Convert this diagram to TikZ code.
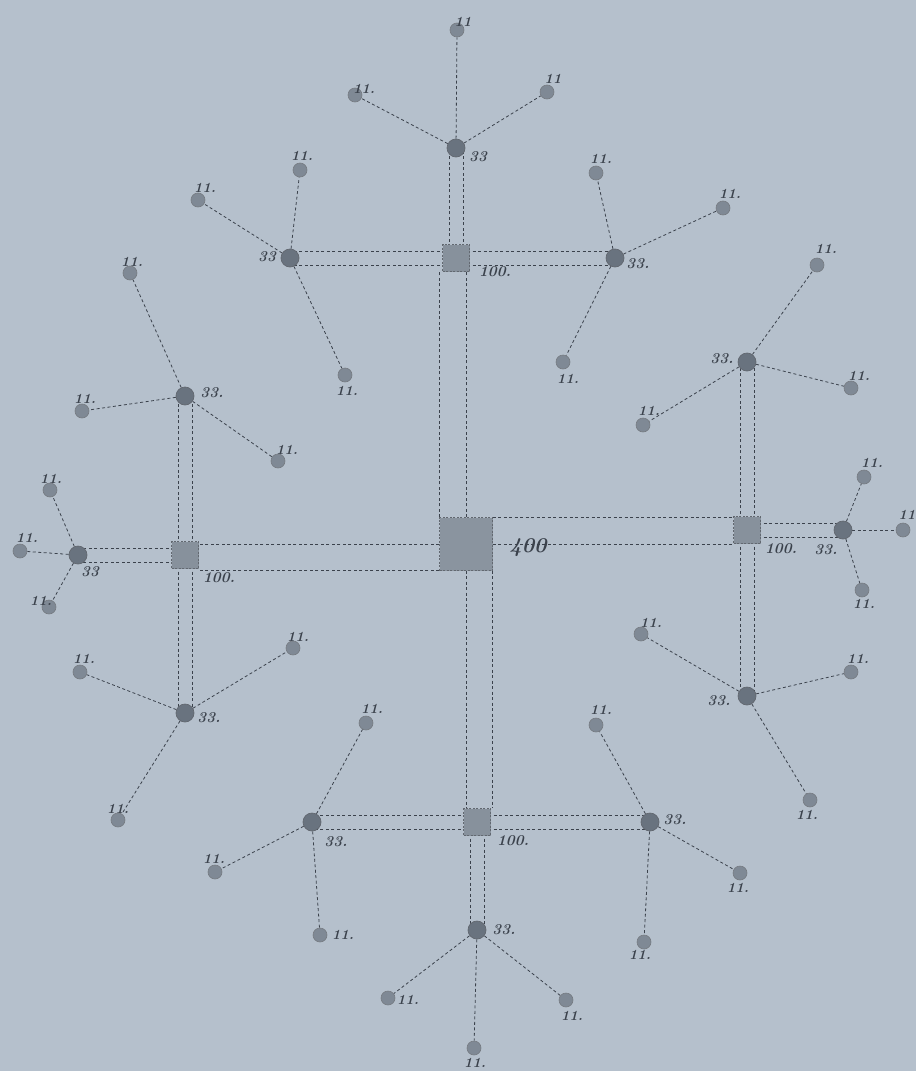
\documentclass[tikz,border=0pt]{standalone}
\usetikzlibrary{backgrounds}
\definecolor{bg}{HTML}{B5C0CC}
\definecolor{ink}{HTML}{3B424C}
\definecolor{sqfill}{HTML}{87919C}
\definecolor{bigfill}{HTML}{8A949F}
\definecolor{nfill}{HTML}{69737F}
\definecolor{lfill}{HTML}{7F8995}
\tikzset{
  sq/.style={rectangle, draw=ink!80, dash pattern=on 2pt off 1.5pt, fill=sqfill, minimum size=27pt, inner sep=0pt},
  bigsq/.style={sq, fill=bigfill, minimum size=53pt},
  n33/.style={circle, fill=nfill, draw=ink!80, line width=0.7pt, minimum size=18pt, inner sep=0pt},
  n11/.style={circle, fill=lfill, draw=ink!70, line width=0.6pt, minimum size=14pt, inner sep=0pt},
  lab/.style={text=ink, font=\fontsize{14}{14}\selectfont\bfseries\itshape, inner sep=0pt},
  lab33/.style={lab, font=\fontsize{15}{15}\selectfont\bfseries\itshape},
  lab100/.style={lab, font=\fontsize{15}{15}\selectfont\bfseries\itshape},
  lab400/.style={lab, font=\fontsize{21}{21}\selectfont\bfseries\itshape},
  wire/.style={draw=ink, line width=0.8pt, dash pattern=on 3pt off 2.5pt}
}
\begin{document}
\begin{tikzpicture}[x=1pt,y=-1pt]
\useasboundingbox (0,0) rectangle (916,1071);
% squares
\node[bigsq] (C) at (466,544) {};
\node[sq] (T) at (456,258) {};
\node[sq] (R) at (747,530) {};
\node[sq] (B) at (477,822) {};
\node[sq] (L) at (185,555) {};
% 33 nodes
\node[n33] (tT) at (456,148) {};
\node[n33] (tL) at (290,258) {};
\node[n33] (tR) at (615,258) {};
\node[n33] (rU) at (747,362) {};
\node[n33] (rD) at (747,696) {};
\node[n33] (rR) at (843,530) {};
\node[n33] (bL) at (312,822) {};
\node[n33] (bR) at (650,822) {};
\node[n33] (bB) at (477,930) {};
\node[n33] (lL) at (78,555) {};
\node[n33] (lU) at (185,396) {};
\node[n33] (lD) at (185,713) {};
% 11 leaves
\node[n11] (tT1) at (457,30) {};
\node[n11] (tT2) at (355,95) {};
\node[n11] (tT3) at (547,92) {};
\node[n11] (tL1) at (300,170) {};
\node[n11] (tL2) at (198,200) {};
\node[n11] (tL3) at (345,375) {};
\node[n11] (tR1) at (596,173) {};
\node[n11] (tR2) at (723,208) {};
\node[n11] (tR3) at (563,362) {};
\node[n11] (rR1) at (864,477) {};
\node[n11] (rR2) at (903,530) {};
\node[n11] (rR3) at (862,590) {};
\node[n11] (rU1) at (817,265) {};
\node[n11] (rU2) at (851,388) {};
\node[n11] (rU3) at (643,425) {};
\node[n11] (rD1) at (641,634) {};
\node[n11] (rD2) at (851,672) {};
\node[n11] (rD3) at (810,800) {};
\node[n11] (bL1) at (366,723) {};
\node[n11] (bL2) at (215,872) {};
\node[n11] (bL3) at (320,935) {};
\node[n11] (bR1) at (596,725) {};
\node[n11] (bR2) at (740,873) {};
\node[n11] (bR3) at (644,942) {};
\node[n11] (bB1) at (388,998) {};
\node[n11] (bB2) at (566,1000) {};
\node[n11] (bB3) at (474,1048) {};
\node[n11] (lL1) at (50,490) {};
\node[n11] (lL2) at (20,551) {};
\node[n11] (lL3) at (49,607) {};
\node[n11] (lU1) at (130,273) {};
\node[n11] (lU2) at (82,411) {};
\node[n11] (lU3) at (278,461) {};
\node[n11] (lD1) at (80,672) {};
\node[n11] (lD2) at (293,648) {};
\node[n11] (lD3) at (118,820) {};
% labels
\node[lab400] (Cl) at (528,548) {400};
\node[lab100] (Tl) at (495,272) {100.};
\node[lab100] (Rl) at (781,549) {100.};
\node[lab100] (Bl) at (513,841) {100.};
\node[lab100] (Ll) at (219,578) {100.};
\node[lab33] (tTl) at (478,157) {33};
\node[lab33] (tLl) at (267,257) {33};
\node[lab33] (tRl) at (638,264) {33.};
\node[lab33] (rUl) at (722,359) {33.};
\node[lab33] (rDl) at (719,701) {33.};
\node[lab33] (rRl) at (826,550) {33.};
\node[lab33] (bLl) at (336,842) {33.};
\node[lab33] (bRl) at (675,820) {33.};
\node[lab33] (bBl) at (504,930) {33.};
\node[lab33] (lLl) at (90,572) {33};
\node[lab33] (lUl) at (212,393) {33.};
\node[lab33] (lDl) at (209,718) {33.};
\node[lab] (tT1l) at (463,22) {11};
\node[lab] (tT2l) at (364,89) {11.};
\node[lab] (tT3l) at (553,79) {11};
\node[lab] (tL1l) at (302,156) {11.};
\node[lab] (tL2l) at (205,188) {11.};
\node[lab] (tL3l) at (347,391) {11.};
\node[lab] (tR1l) at (601,159) {11.};
\node[lab] (tR2l) at (730,194) {11.};
\node[lab] (tR3l) at (568,379) {11.};
\node[lab] (rR1l) at (872,463) {11.};
\node[lab] (rR2l) at (907,515) {11};
\node[lab] (rR3l) at (864,604) {11.};
\node[lab] (rU1l) at (826,249) {11.};
\node[lab] (rU2l) at (859,376) {11.};
\node[lab] (rU3l) at (649,411) {11.};
\node[lab] (rD1l) at (651,623) {11.};
\node[lab] (rD2l) at (858,659) {11.};
\node[lab] (rD3l) at (807,815) {11.};
\node[lab] (bL1l) at (372,709) {11.};
\node[lab] (bL2l) at (214,859) {11.};
\node[lab] (bL3l) at (343,935) {11.};
\node[lab] (bR1l) at (601,710) {11.};
\node[lab] (bR2l) at (738,888) {11.};
\node[lab] (bR3l) at (640,955) {11.};
\node[lab] (bB1l) at (408,1000) {11.};
\node[lab] (bB2l) at (572,1016) {11.};
\node[lab] (bB3l) at (475,1063) {11.};
\node[lab] (lL1l) at (51,479) {11.};
\node[lab] (lL2l) at (27,538) {11.};
\node[lab] (lL3l) at (41,601) {11.};
\node[lab] (lU1l) at (132,262) {11.};
\node[lab] (lU2l) at (85,399) {11.};
\node[lab] (lU3l) at (287,450) {11.};
\node[lab] (lD1l) at (84,659) {11.};
\node[lab] (lD2l) at (298,637) {11.};
\node[lab] (lD3l) at (118,809) {11.};
\begin{pgfonlayer}{background}
\fill[bg] (0,0) rectangle (916,1071);
% main corridors from 400
\draw[wire] (C.north west) -- (C.north west |- T.south);
\draw[wire] (C.north) -- (C.north |- T.south);
\draw[wire] (C.north east) -- (C.north east -| R.west);
\draw[wire] (C.east) -- (C.east -| R.west);
\draw[wire] (C.south) -- (C.south |- B.north);
\draw[wire] (C.south east) -- (C.south east |- B.north);
\draw[wire] (C.west) -- (C.west -| L.east);
\draw[wire] (C.south west) -- (C.south west -| L.east);
% corridors from 100 to 33 (pairs of parallel lines)
\foreach \s in {-7pt,7pt}{
  \draw[wire] ([xshift=\s]T.center) -- ([xshift=\s]tT.center);
  \draw[wire] ([yshift=\s]T.center) -- ([yshift=\s]tL.center);
  \draw[wire] ([yshift=\s]T.center) -- ([yshift=\s]tR.center);
  \draw[wire] ([xshift=\s]R.center) -- ([xshift=\s]rU.center);
  \draw[wire] ([xshift=\s]R.center) -- ([xshift=\s]rD.center);
  \draw[wire] ([yshift=\s]R.center) -- ([yshift=\s]rR.center);
  \draw[wire] ([yshift=\s]B.center) -- ([yshift=\s]bL.center);
  \draw[wire] ([yshift=\s]B.center) -- ([yshift=\s]bR.center);
  \draw[wire] ([xshift=\s]B.center) -- ([xshift=\s]bB.center);
  \draw[wire] ([yshift=\s]L.center) -- ([yshift=\s]lL.center);
  \draw[wire] ([xshift=\s]L.center) -- ([xshift=\s]lU.center);
  \draw[wire] ([xshift=\s]L.center) -- ([xshift=\s]lD.center);
}
% leaf wires
\foreach \g in {tT,tL,tR,rU,rD,rR,bL,bR,bB,lL,lU,lD}{
  \foreach \i in {1,2,3}{
    \draw[wire] (\g) -- (\g\i);
  }
}
\end{pgfonlayer}
\end{tikzpicture}
\end{document}
